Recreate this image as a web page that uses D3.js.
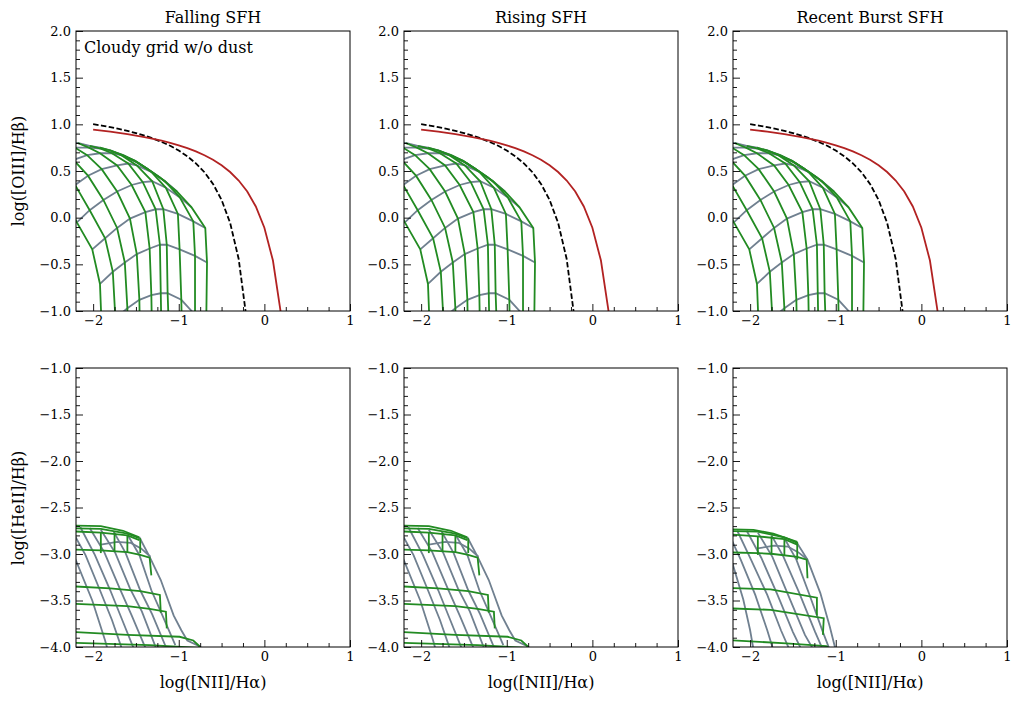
<!DOCTYPE html>
<html><head><meta charset="utf-8">
<script src="https://cdn.jsdelivr.net/npm/d3@7"></script>
<style>body{margin:0;background:#fff;} text{font-family:"DejaVu Serif",serif;fill:#000;}</style>
</head><body><svg id="c" width="1020" height="703"></svg>
<script>
// ---------------- data ----------------
const titles = ["Falling SFH", "Rising SFH", "Recent Burst SFH"];
const xTicks = [-2, -1, 0, 1];
const yTicksTop = [-1, -0.5, 0, 0.5, 1, 1.5, 2];
const yTicksBot = [-4, -3.5, -3, -2.5, -2, -1.5, -1];

// Kauffmann et al. (2003) demarcation (black dashed)
const kauffmann = [[-2.0,1.002],[-1.9,0.987],[-1.8,0.970],[-1.7,0.951],[-1.6,0.930],[-1.5,0.906],[-1.4,0.879],[-1.3,0.848],[-1.2,0.812],[-1.1,0.770],[-1.0,0.719],[-0.9,0.658],[-0.8,0.582],[-0.7,0.487],[-0.6,0.362],[-0.5,0.191],[-0.4,-0.056],[-0.3,-0.443],[-0.2,-1.140]];
// Kewley et al. (2001) maximum starburst line (red)
const kewley = [[-2.0,0.943],[-1.9,0.933],[-1.8,0.921],[-1.7,0.909],[-1.6,0.895],[-1.5,0.880],[-1.4,0.864],[-1.3,0.845],[-1.2,0.825],[-1.1,0.801],[-1.0,0.775],[-0.9,0.745],[-0.8,0.710],[-0.7,0.669],[-0.6,0.620],[-0.5,0.561],[-0.4,0.489],[-0.3,0.398],[-0.2,0.280],[-0.1,0.120],[0.0,-0.108],[0.1,-0.459],[0.2,-1.069]];

// BPT grid nodes: rows = gray lines, columns = green lines
const bptGrid = [
 [[-2.85,0.83],[-2.68,0.82],[-2.50,0.82],[-2.34,0.81],[-2.18,0.80],[-2.04,0.77],[-1.92,0.75],[-1.78,0.71],[-1.64,0.66],[-1.48,0.59]],
 [[-2.70,0.70],[-2.54,0.72],[-2.37,0.74],[-2.21,0.75],[-2.05,0.75],[-1.91,0.74],[-1.80,0.72],[-1.65,0.67],[-1.50,0.60],[-1.36,0.52]],
 [[-2.53,0.46],[-2.39,0.54],[-2.23,0.62],[-2.07,0.67],[-1.92,0.69],[-1.78,0.69],[-1.67,0.67],[-1.51,0.61],[-1.36,0.52],[-1.22,0.43]],
 [[-2.36,0.24],[-2.21,0.35],[-2.06,0.45],[-1.90,0.52],[-1.72,0.56],[-1.59,0.58],[-1.49,0.56],[-1.32,0.49],[-1.16,0.39],[-1.02,0.28]],
 [[-2.19,-0.05],[-2.04,0.08],[-1.88,0.19],[-1.72,0.28],[-1.55,0.35],[-1.42,0.38],[-1.31,0.39],[-1.15,0.32],[-0.99,0.22],[-0.85,0.11]],
 [[-2.01,-0.34],[-1.86,-0.22],[-1.72,-0.11],[-1.57,-0.01],[-1.39,0.06],[-1.27,0.09],[-1.18,0.09],[-1.01,0.04],[-0.83,-0.04],[-0.69,-0.11]],
 [[-1.92,-0.71],[-1.77,-0.58],[-1.63,-0.48],[-1.49,-0.39],[-1.34,-0.33],[-1.22,-0.29],[-1.14,-0.29],[-0.99,-0.34],[-0.81,-0.41],[-0.67,-0.48]],
 [[-1.90,-1.18],[-1.74,-1.08],[-1.60,-0.97],[-1.46,-0.88],[-1.32,-0.83],[-1.21,-0.81],[-1.13,-0.81],[-0.97,-0.88],[-0.81,-1.04],[-0.68,-1.20]],
 [[-1.88,-1.74],[-1.73,-1.63],[-1.59,-1.53],[-1.45,-1.42],[-1.31,-1.36],[-1.20,-1.34],[-1.11,-1.34],[-0.96,-1.42],[-0.80,-1.58],[-0.69,-1.74]]
];

// HeII grid, falling & rising SFH
const heGreenA = [
 [[-2.39,-2.69],[-1.91,-2.70],[-1.65,-2.75],[-1.46,-2.82]],
 [[-2.39,-2.72],[-1.91,-2.73],[-1.60,-2.78],[-1.46,-2.83]],
 [[-2.39,-2.75],[-1.91,-2.77],[-1.60,-2.80],[-1.46,-2.85]],
 [[-2.39,-2.95],[-1.91,-2.96],[-1.60,-2.98],[-1.45,-3.01],[-1.34,-3.04],[-1.32,-3.23]],
 [[-2.39,-3.34],[-1.80,-3.37],[-1.45,-3.40],[-1.22,-3.44],[-1.21,-3.63]],
 [[-2.39,-3.53],[-1.60,-3.56],[-1.34,-3.59],[-1.15,-3.62],[-1.14,-3.80]],
 [[-2.39,-3.83],[-1.60,-3.87],[-0.99,-3.89],[-0.83,-3.93],[-0.76,-3.99],[-0.75,-4.05]],
 [[-2.39,-3.95],[-1.34,-3.98],[-0.75,-4.01]],
 [[-1.91,-2.77],[-1.91,-2.99]],
 [[-1.75,-2.77],[-1.75,-2.97]],
 [[-1.60,-2.80],[-1.60,-2.98]],
 [[-1.45,-2.83],[-1.45,-2.99]]
];
const heGrayA = [
 [[-2.39,-2.71],[-2.20,-3.07],[-2.01,-3.50],[-1.86,-3.93],[-1.83,-4.03]],
 [[-2.27,-2.71],[-2.09,-3.01],[-1.92,-3.39],[-1.78,-3.71],[-1.66,-4.03]],
 [[-2.15,-2.71],[-1.98,-3.01],[-1.80,-3.39],[-1.66,-3.71],[-1.52,-4.03]],
 [[-2.04,-2.72],[-1.87,-2.98],[-1.69,-3.37],[-1.55,-3.66],[-1.38,-4.03]],
 [[-1.91,-2.74],[-1.74,-2.99],[-1.57,-3.37],[-1.43,-3.62],[-1.27,-4.00]],
 [[-1.76,-2.76],[-1.62,-2.99],[-1.45,-3.39],[-1.31,-3.65],[-1.15,-4.00]],
 [[-1.60,-2.79],[-1.46,-3.01],[-1.32,-3.39],[-1.21,-3.62],[-1.04,-3.98]],
 [[-1.46,-2.82],[-1.34,-3.03],[-1.21,-3.28],[-1.06,-3.66],[-0.97,-3.82],[-0.90,-3.93],[-0.74,-4.00]],
 [[-1.91,-2.90],[-1.72,-2.87],[-1.56,-2.88],[-1.44,-2.94],[-1.33,-3.03]]
];
// HeII grid, recent burst SFH
const heGreenB = [
 [[-2.39,-2.73],[-1.96,-2.74],[-1.73,-2.78],[-1.45,-2.87]],
 [[-2.39,-2.75],[-1.91,-2.76],[-1.60,-2.82],[-1.45,-2.88]],
 [[-2.39,-2.78],[-1.91,-2.81],[-1.60,-2.84],[-1.45,-2.90]],
 [[-2.39,-2.98],[-1.91,-2.99],[-1.73,-3.00],[-1.45,-3.03],[-1.34,-3.06],[-1.33,-3.26]],
 [[-2.39,-3.36],[-1.76,-3.38],[-1.22,-3.47],[-1.22,-3.66]],
 [[-2.39,-3.58],[-1.76,-3.60],[-1.14,-3.69],[-1.15,-3.87]],
 [[-2.39,-3.92],[-1.58,-3.96],[-1.11,-3.99],[-1.05,-4.03]],
 [[-1.91,-2.81],[-1.91,-3.01]],
 [[-1.75,-2.81],[-1.75,-2.99]],
 [[-1.60,-2.84],[-1.60,-3.02]],
 [[-1.45,-2.87],[-1.45,-3.06]]
];
const heGrayB = [
 [[-2.39,-2.74],[-2.20,-3.12],[-2.08,-3.49],[-2.00,-3.82],[-1.96,-4.03]],
 [[-2.27,-2.74],[-2.11,-3.06],[-1.94,-3.44],[-1.80,-3.82],[-1.73,-4.03]],
 [[-2.15,-2.75],[-1.99,-3.06],[-1.80,-3.44],[-1.64,-3.82],[-1.54,-4.03]],
 [[-2.04,-2.75],[-1.87,-3.04],[-1.68,-3.44],[-1.50,-3.84],[-1.40,-4.03]],
 [[-1.91,-2.77],[-1.74,-3.03],[-1.57,-3.41],[-1.36,-3.87],[-1.26,-4.03]],
 [[-1.75,-2.80],[-1.61,-3.03],[-1.43,-3.41],[-1.24,-3.84],[-1.15,-4.03]],
 [[-1.60,-2.83],[-1.46,-3.06],[-1.31,-3.43],[-1.15,-3.84],[-1.07,-4.03]],
 [[-1.46,-2.87],[-1.33,-3.06],[-1.18,-3.42],[-1.07,-3.78],[-1.01,-4.00],[-1.00,-4.06]],
 [[-1.91,-2.94],[-1.72,-2.91],[-1.56,-2.92],[-1.44,-2.98],[-1.33,-3.06]]
];

// ---------------- layout ----------------
const colLeft = [76, 404, 733];
const pw = 274;
const rowTop = [31, 368];
const ph = [280, 279];
const GREEN = "#228b22", GRAY = "#708090", RED = "#b22222";
const FONT = "'DejaVu Serif', serif";

const svg = d3.select("#c");
svg.append("rect").attr("width",1020).attr("height",703).attr("fill","#fff");
const defs = svg.append("defs");

function panel(ci, ri) {
  const x0 = colLeft[ci], y0 = rowTop[ri], h = ph[ri];
  const x = d3.scaleLinear().domain([-2.2, 1]).range([x0, x0 + pw]);
  const yd = ri === 0 ? [-1, 2] : [-4, -1];
  const y = d3.scaleLinear().domain(yd).range([y0 + h, y0]);
  const id = "clip" + ci + ri;
  defs.append("clipPath").attr("id", id).append("rect")
    .attr("x", x0).attr("y", y0).attr("width", pw).attr("height", h);
  const g = svg.append("g");
  const plot = g.append("g").attr("clip-path", `url(#${id})`);
  const ln = d3.line().x(d => x(d[0])).y(d => y(d[1]));

  if (ri === 0) {
    const cols = bptGrid[0].map((_, j) => bptGrid.map(r => r[j]));
    plot.selectAll(".gr").data(bptGrid).join("path").attr("d", ln)
      .attr("fill","none").attr("stroke",GRAY).attr("stroke-width",1.8);
    plot.selectAll(".gn").data(cols).join("path").attr("d", ln)
      .attr("fill","none").attr("stroke",GREEN).attr("stroke-width",1.8);
    plot.append("path").datum(kauffmann).attr("d", ln).attr("fill","none")
      .attr("stroke","#000").attr("stroke-width",1.8).attr("stroke-dasharray","5.5,2.4");
    plot.append("path").datum(kewley).attr("d", ln).attr("fill","none")
      .attr("stroke",RED).attr("stroke-width",1.8);
  } else {
    const gr = ci === 2 ? heGrayB : heGrayA;
    const gn = ci === 2 ? heGreenB : heGreenA;
    plot.selectAll(".gr").data(gr).join("path").attr("d", ln)
      .attr("fill","none").attr("stroke",GRAY).attr("stroke-width",1.8);
    plot.selectAll(".gn").data(gn).join("path").attr("d", ln)
      .attr("fill","none").attr("stroke",GREEN).attr("stroke-width",1.8);
  }

  // axes
  const yt = ri === 0 ? yTicksTop : yTicksBot;
  const xMinor = d3.range(-2.25, 1.001, 0.25).filter(v => v >= -2.2 && Math.abs(v - Math.round(v)) > 1e-6);
  const yMinor = d3.range(yd[0], yd[1] + 1e-6, 0.1).filter(v => Math.abs(v*2 - Math.round(v*2)) > 1e-6);

  const ax = g.append("g").attr("transform", `translate(0,${y0 + h})`)
    .call(d3.axisBottom(x).tickValues(xTicks).tickFormat(d3.format("d")).tickSizeInner(-7).tickSizeOuter(0).tickPadding(5));
  const axm = g.append("g").attr("transform", `translate(0,${y0 + h})`)
    .call(d3.axisBottom(x).tickValues(xMinor).tickFormat("").tickSizeInner(-4).tickSizeOuter(0));
  const ay = g.append("g").attr("transform", `translate(${x0},0)`)
    .call(d3.axisLeft(y).tickValues(yt).tickFormat(d3.format(".1f")).tickSizeInner(-7).tickSizeOuter(0).tickPadding(5));
  const aym = g.append("g").attr("transform", `translate(${x0},0)`)
    .call(d3.axisLeft(y).tickValues(yMinor).tickFormat("").tickSizeInner(-4).tickSizeOuter(0));
  [ax, axm, ay, aym].forEach(a => {
    a.attr("font-family", FONT).attr("font-size", 13);
    a.select(".domain").remove();
    a.selectAll("text").attr("font-family", FONT).style("font-family", FONT).style("font-size", "13px").attr("fill", "#000");
    a.selectAll("line").attr("stroke", "#000").attr("stroke-width", 0.9);
  });
  g.append("rect").attr("x", x0).attr("y", y0).attr("width", pw).attr("height", h)
    .attr("fill", "none").attr("stroke", "#000").attr("stroke-width", 1);

  if (ri === 0) {
    g.append("text").attr("x", x0 + pw / 2).attr("y", 23).attr("text-anchor", "middle")
      .style("font-size", "16px").text(titles[ci]);
  } else {
    g.append("text").attr("x", x0 + pw / 2).attr("y", 688).attr("text-anchor", "middle")
      .style("font-size", "16px").text("log([NII]/H\u03b1)");
  }
}

for (let r = 0; r < 2; r++) for (let c = 0; c < 3; c++) panel(c, r);

svg.append("text").attr("x", 84).attr("y", 53).style("font-size", "16px").text("Cloudy grid w/o dust");
svg.append("text").attr("transform", "translate(24,171) rotate(-90)").attr("text-anchor", "middle")
  .style("font-size", "16px").text("log([OIII]/H\u03b2)");
svg.append("text").attr("transform", "translate(24,508) rotate(-90)").attr("text-anchor", "middle")
  .style("font-size", "16px").text("log([HeII]/H\u03b2)");
</script></body></html>
